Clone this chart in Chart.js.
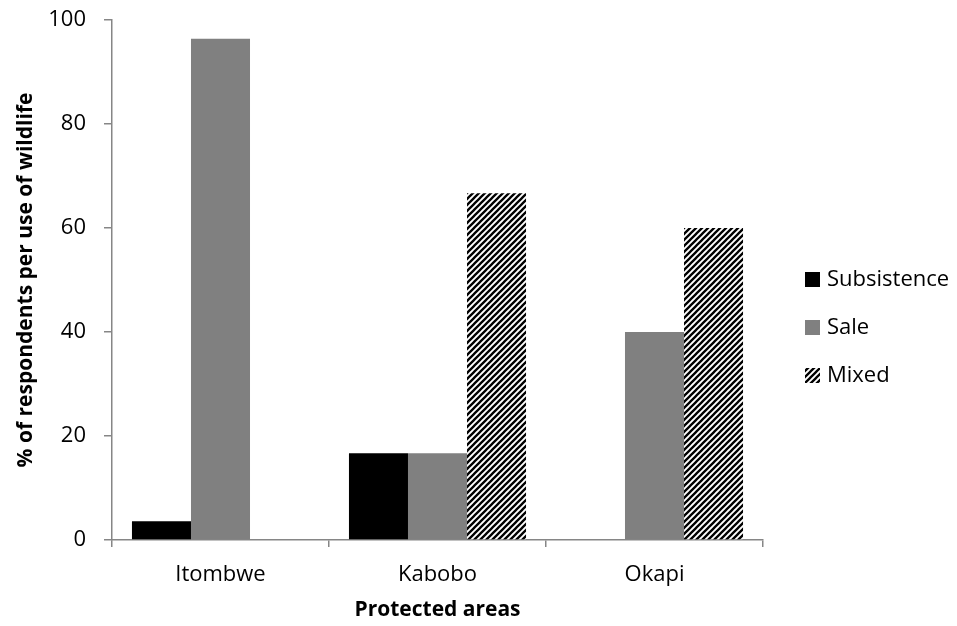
<!DOCTYPE html>
<html>
<head>
<meta charset="utf-8">
<script src="https://cdn.jsdelivr.net/npm/chart.js@4.4.1/dist/chart.umd.min.js"></script>
<style>
    html, body { margin: 0; padding: 0; background: #fff; }
    #wrap { width: 957px; height: 626px; }
</style>
</head>
<body>
<div id="wrap"><canvas id="useChart" width="957" height="626"></canvas></div>
<script>
const areas = ["Itombwe", "Kabobo", "Okapi"];
const subsistence = [3.6, 16.7, 0];
const sale = [96.4, 16.7, 40];
const mixed = [0, 66.7, 60];
const yTicks = [0, 20, 40, 60, 80, 100];

const FONT = "'Open Sans', 'Noto Sans', sans-serif";
const AXIS_GREY = "#868686";

/* diagonal black/white hatch for the Mixed series */
function makeHatch() {
    let tile = document.createElement("canvas");
    tile.width = 6;
    tile.height = 6;
    let c = tile.getContext("2d");
    c.fillStyle = "#fff";
    c.fillRect(0, 0, 6, 6);
    c.strokeStyle = "#000";
    c.lineWidth = 2.3;
    c.beginPath();
    c.moveTo(-1, 7); c.lineTo(7, -1);
    c.moveTo(-4, 4); c.lineTo(4, -4);
    c.moveTo(2, 10); c.lineTo(10, 2);
    c.stroke();
    return c.createPattern(tile, "repeat");
}

const ctx = document.getElementById("useChart").getContext("2d");
const hatch = makeHatch();

/* legend drawn on the right, one square + label per dataset */
const sideLegend = {
    id: "sideLegend",
    afterDraw(chart) {
        let g = chart.ctx;
        g.save();
        g.font = "22px " + FONT;
        g.textBaseline = "middle";
        chart.data.datasets.forEach((ds, i) => {
            let y = 279 + i * 48;
            g.fillStyle = ds.backgroundColor;
            g.fillRect(805, y - 7, 15, 15);
            g.fillStyle = "#000";
            g.fillText(ds.label, 827, y + 1);
        });
        g.restore();
    }
};

new Chart(ctx, {
    type: "bar",
    data: {
        labels: areas,
        datasets: [
            { label: "Subsistence", data: subsistence, backgroundColor: "#000000" },
            { label: "Sale", data: sale, backgroundColor: "#808080" },
            { label: "Mixed", data: mixed, backgroundColor: hatch }
        ]
    },
    options: {
        responsive: false,
        animation: false,
        devicePixelRatio: 1,
        layout: { padding: { left: 0, top: 20, right: 194, bottom: 0 } },
        datasets: {
            bar: { categoryPercentage: 0.816, barPercentage: 1.0, borderWidth: 0 }
        },
        plugins: {
            legend: { display: false },
            tooltip: { enabled: false }
        },
        scales: {
            x: {
                afterFit: s => { s.height = 86; },
                grid: {
                    offset: true,
                    drawOnChartArea: false,
                    drawTicks: true,
                    tickLength: 7,
                    color: AXIS_GREY,
                    lineWidth: 1.5
                },
                border: { color: AXIS_GREY, width: 1.5 },
                ticks: { color: "#000", font: { family: FONT, size: 22 }, padding: 15 },
                title: {
                    display: true,
                    text: "Protected areas",
                    color: "#000",
                    font: { family: FONT, size: 21, weight: "bold" },
                    padding: { top: 0, bottom: 3 }
                }
            },
            y: {
                min: 0,
                max: 100,
                afterFit: s => {
                    s.width = 112;
                    // keep the plot top at the layout padding, not pushed down by label room
                    s.paddingTop = 0;
                    s.paddingBottom = 0;
                },
                afterBuildTicks: s => { s.ticks = yTicks.map(v => ({ value: v })); },
                grid: {
                    drawOnChartArea: false,
                    drawTicks: true,
                    tickLength: 8,
                    color: AXIS_GREY,
                    lineWidth: 1.5
                },
                border: { color: AXIS_GREY, width: 1.5 },
                ticks: { color: "#000", font: { family: FONT, size: 22 }, padding: 18 },
                title: {
                    display: true,
                    text: "% of respondents per use of wildlife",
                    color: "#000",
                    font: { family: FONT, size: 21, weight: "bold" },
                    padding: { top: 13, bottom: 0 }
                }
            }
        }
    },
    plugins: [sideLegend]
});
</script>
</body>
</html>
